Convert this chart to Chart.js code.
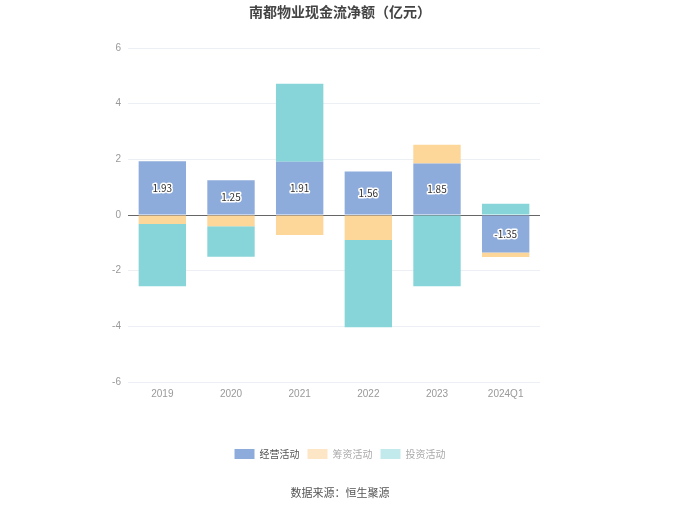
<!DOCTYPE html>
<html>
<head>
<meta charset="utf-8">
<script src="https://cdn.jsdelivr.net/npm/chart.js@4"></script>
<style>
  html, body { margin: 0; padding: 0; background: #fff; }
  #wrap { width: 680px; height: 509px; }
</style>
</head>
<body>
<div id="wrap"><canvas id="cashChart" width="680" height="509"></canvas></div>
<script>
// 数据（亿元）
const years = ['2019', '2020', '2021', '2022', '2023', '2024Q1'];
const operating = [1.93, 1.25, 1.91, 1.56, 1.85, -1.35];   // 经营活动
const financing = [-0.32, -0.40, -0.72, -0.90, 0.67, -0.16]; // 筹资活动
const investing = [-2.24, -1.10, 2.81, -3.13, -2.56, 0.40];  // 投资活动
const yTicks = [-6, -4, -2, 0, 2, 4, 6];

const seriesColors = ['#8eacdb', '#fdd699', '#87d5d9'];
const legendColors = ['#8eacdb', '#fde6c6', '#c2eaed'];
const legendText = ['#555', '#aaa', '#aaa'];

// 标题、数据来源、柱内数值
const extras = {
    id: 'extras',
    afterLayout(chart) {
        // 图例居中于整个画布
        const lg = chart.legend;
        if (lg) {
            const shift = 340 - (lg.left + lg.right) / 2;
            lg.left += shift;
            lg.right += shift;
        }
    },
    afterDatasetsDraw(chart) {
        const ctx = chart.ctx;
        const meta = chart.getDatasetMeta(0);
        ctx.save();
        ctx.font = '10px "Noto Sans CJK SC", sans-serif';
        ctx.textAlign = 'center';
        ctx.textBaseline = 'middle';
        ctx.lineJoin = 'round';
        meta.data.forEach((bar, i) => {
            const y = (bar.y + bar.base) / 2;
            const txt = operating[i].toFixed(2);
            ctx.lineWidth = 3;
            ctx.strokeStyle = '#fff';
            ctx.strokeText(txt, bar.x, y);
            ctx.fillStyle = '#333';
            ctx.fillText(txt, bar.x, y);
        });
        ctx.restore();
    },
    afterDraw(chart) {
        const ctx = chart.ctx;
        ctx.save();
        ctx.textAlign = 'center';
        ctx.textBaseline = 'middle';
        ctx.fillStyle = '#444';
        ctx.font = 'bold 14px "Noto Sans CJK SC", sans-serif';
        ctx.fillText('南都物业现金流净额（亿元）', 340, 12);
        ctx.fillStyle = '#555';
        ctx.font = '11px "Noto Sans CJK SC", sans-serif';
        ctx.fillText('数据来源：恒生聚源', 340, 493);
        ctx.restore();
    }
};

const canvas = document.getElementById('cashChart');
const ctx = canvas.getContext('2d');

new Chart(ctx, {
    type: 'bar',
    data: {
        labels: years,
        datasets: [
            { label: '经营活动', data: operating, backgroundColor: seriesColors[0] },
            { label: '筹资活动', data: financing, backgroundColor: seriesColors[1] },
            { label: '投资活动', data: investing, backgroundColor: seriesColors[2] }
        ]
    },
    options: {
        responsive: false,
        animation: false,
        layout: { padding: { left: 90, right: 140, top: 48, bottom: 40 } },
        datasets: { bar: { categoryPercentage: 1, barPercentage: 0.69 } },
        plugins: {
            title: { display: false },
            tooltip: { enabled: false },
            legend: {
                position: 'bottom',
                labels: {
                    boxWidth: 20,
                    boxHeight: 10,
                    padding: 8,
                    font: { size: 10, family: '"Noto Sans CJK SC", sans-serif' },
                    generateLabels: function (chart) {
                        return chart.data.datasets.map((ds, i) => ({
                            text: ds.label,
                            fillStyle: legendColors[i],
                            strokeStyle: legendColors[i],
                            fontColor: legendText[i],
                            lineWidth: 0,
                            datasetIndex: i
                        }));
                    }
                }
            }
        },
        scales: {
            x: {
                stacked: true,
                grid: { display: false, drawTicks: false },
                border: { display: false },
                ticks: { color: '#999', font: { size: 10 }, padding: 6 },
                afterFit: function (scale) { scale.height = 59; }
            },
            y: {
                stacked: true,
                min: -6,
                max: 6,
                afterBuildTicks: function (scale) {
                    scale.ticks = yTicks.map(v => ({ value: v }));
                },
                afterFit: function (scale) { scale.width = 38; },
                border: { display: false },
                grid: {
                    drawTicks: false,
                    color: c => c.tick && c.tick.value === 0 ? '#666' : '#eceff3'
                },
                ticks: { color: '#999', font: { size: 10 }, padding: 7 }
            }
        }
    },
    plugins: [extras]
});
</script>
</body>
</html>
